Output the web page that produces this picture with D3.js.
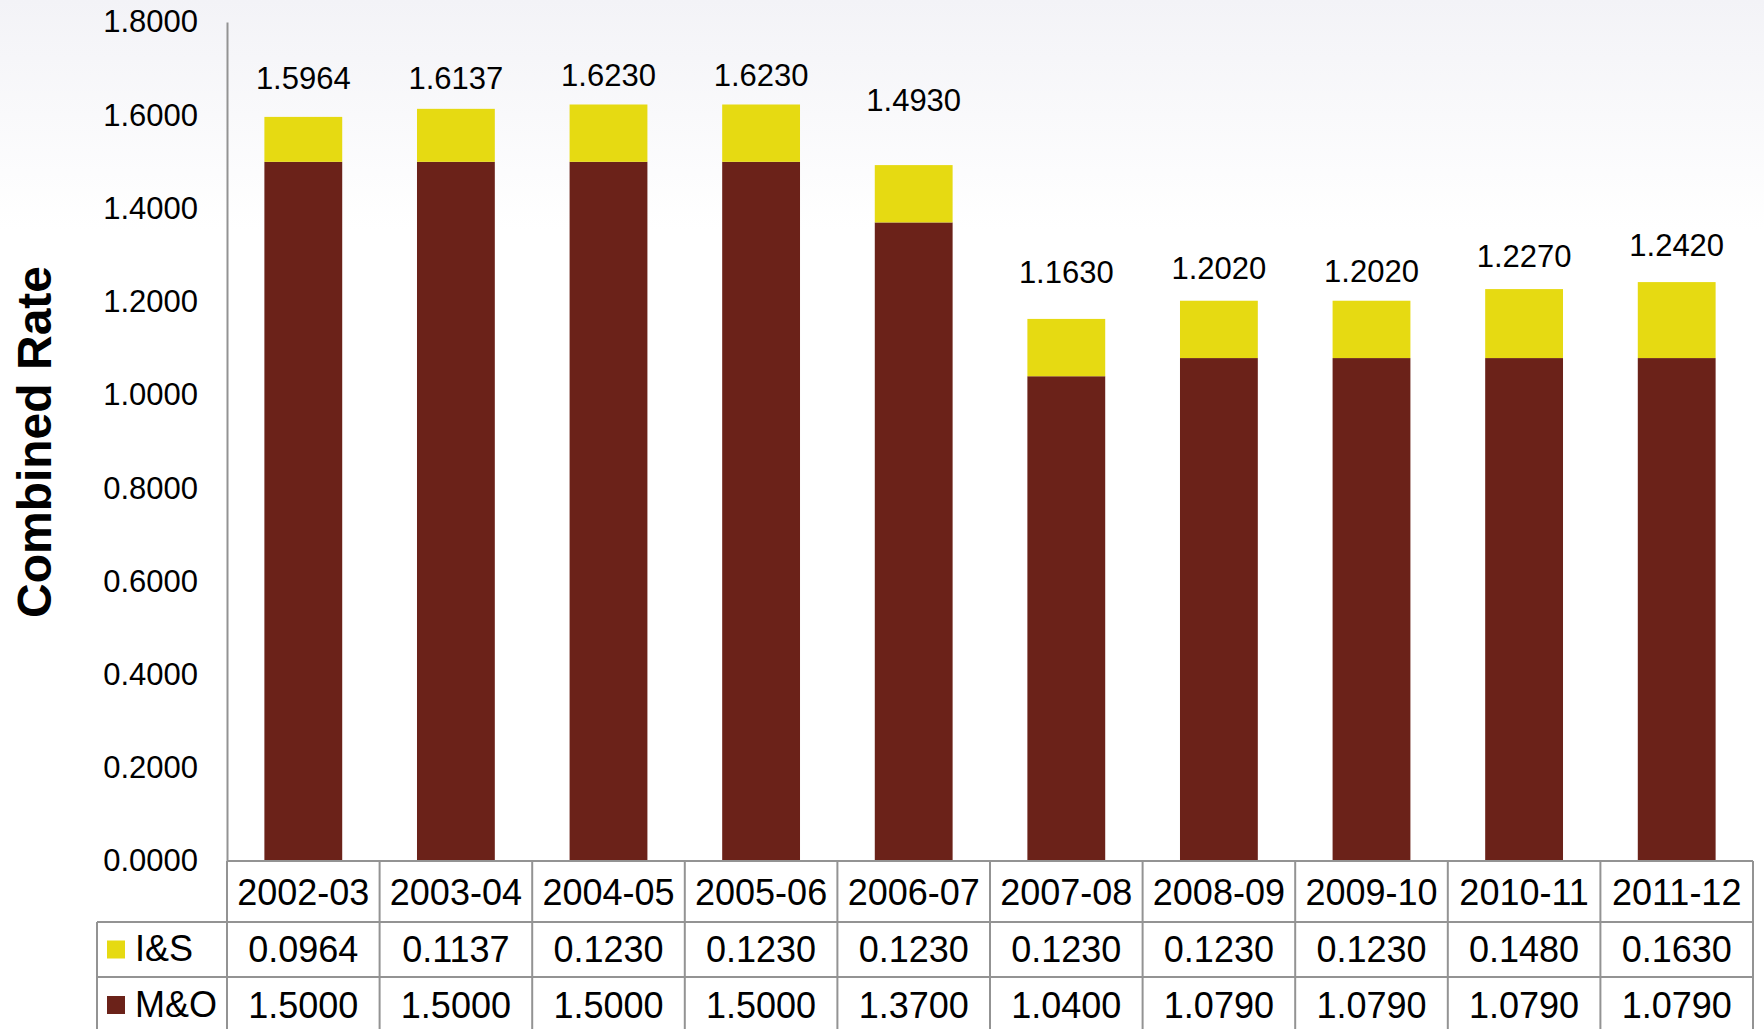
<!DOCTYPE html>
<html>
<head>
<meta charset="utf-8">
<script src="https://cdn.jsdelivr.net/npm/d3@7"></script>
<style>
  html, body { margin: 0; padding: 0; background: #fff; }
  svg { display: block; }
  text { font-family: "Liberation Sans", Arial, sans-serif; fill: #000; }
</style>
</head>
<body>
<script>
// Combined tax rate by school year: M&O plus I&S
const years = ["2002-03", "2003-04", "2004-05", "2005-06", "2006-07",
               "2007-08", "2008-09", "2009-10", "2010-11", "2011-12"];
const isRate = [0.0964, 0.1137, 0.1230, 0.1230, 0.1230, 0.1230, 0.1230, 0.1230, 0.1480, 0.1630];
const moRate = [1.5000, 1.5000, 1.5000, 1.5000, 1.3700, 1.0400, 1.0790, 1.0790, 1.0790, 1.0790];
const totals = [1.5964, 1.6137, 1.6230, 1.6230, 1.4930, 1.1630, 1.2020, 1.2020, 1.2270, 1.2420];
const yTicks = [0, 0.2, 0.4, 0.6, 0.8, 1.0, 1.2, 1.4, 1.6, 1.8];
const seriesNames = ["I&S", "M&O"];

// layout
const W = 1764, H = 1029;
const plotLeft = 227, plotRight = 1753, plotTop = 22, plotBottom = 861;
const rowH = [61, 55, 56];
const labelColLeft = 97;
// vertical distance of each total label above its bar
const labelLift = [38, 30, 29, 29, 65, 46, 32, 29, 33, 37];
const colors = { "I&S": "#e6da12", "M&O": "#6b2219" };
const gridColor = "#939393";

const svg = d3.select("body").append("svg").attr("width", W).attr("height", H);

// soft background wash at the top of the page
const defs = svg.append("defs");
const grad = defs.append("linearGradient").attr("id", "bgWash")
  .attr("x1", 0).attr("y1", 0).attr("x2", 0).attr("y2", 1);
grad.append("stop").attr("offset", "0%").attr("stop-color", "#f3f3f7");
grad.append("stop").attr("offset", "100%").attr("stop-color", "#ffffff");
svg.append("rect").attr("width", W).attr("height", H).attr("fill", "#fff");
svg.append("rect").attr("width", W).attr("height", 230).attr("fill", "url(#bgWash)");

const x = d3.scaleBand().domain(years).range([plotLeft, plotRight]).padding(0);
const y = d3.scaleLinear().domain([0, 1.8]).range([plotBottom, plotTop]);
const barW = x.bandwidth() * 0.51;

const rows = years.map((yr, i) => ({ year: yr, "M&O": moRate[i], "I&S": isRate[i], total: totals[i], i }));
const stack = d3.stack().keys(["M&O", "I&S"])(rows);

// stacked bars
svg.append("g").selectAll("g").data(stack).join("g")
  .attr("fill", d => colors[d.key])
  .selectAll("rect").data(d => d).join("rect")
  .attr("x", d => x(d.data.year) + (x.bandwidth() - barW) / 2)
  .attr("width", barW)
  .attr("y", d => y(d[1]))
  .attr("height", d => y(d[0]) - y(d[1]));

// total labels
svg.append("g").selectAll("text").data(rows).join("text")
  .attr("x", d => x(d.year) + x.bandwidth() / 2)
  .attr("y", d => y(d.total) - labelLift[d.i])
  .attr("text-anchor", "middle")
  .attr("dominant-baseline", "central")
  .style("font-size", "31px")
  .text(d => d.total.toFixed(4));

// value axis
const yAxis = svg.append("g").attr("transform", `translate(${plotLeft},0)`)
  .call(d3.axisLeft(y).tickValues(yTicks).tickFormat(d3.format(".4f"))
        .tickSizeInner(0).tickSizeOuter(0).tickPadding(29));
yAxis.select(".domain").attr("stroke", gridColor).attr("stroke-width", 2);
yAxis.selectAll("text").style("font-size", "31px").attr("fill", "#000")
  .style("font-family", '"Liberation Sans", Arial, sans-serif');

// axis title
svg.append("text")
  .attr("transform", `translate(51,442) rotate(-90)`)
  .attr("text-anchor", "middle")
  .style("font-size", "48px").style("font-weight", "bold")
  .text("Combined Rate");

// data table under the chart
const table = svg.append("g");
const y0 = plotBottom, y1 = y0 + rowH[0], y2 = y1 + rowH[1], y3 = y2 + rowH[2];
const line = (xa, ya, xb, yb) => table.append("line")
  .attr("x1", xa).attr("y1", ya).attr("x2", xb).attr("y2", yb)
  .attr("stroke", gridColor).attr("stroke-width", 2);

line(plotLeft, y0, plotRight, y0);
line(labelColLeft, y1, plotRight, y1);
line(labelColLeft, y2, plotRight, y2);
line(labelColLeft, y1, labelColLeft, y3);
years.forEach(yr => line(x(yr), y0, x(yr), y3));
line(plotRight, y0, plotRight, y3);

table.selectAll("text.cat").data(years).join("text").attr("class", "cat")
  .attr("x", d => x(d) + x.bandwidth() / 2).attr("y", (y0 + y1) / 2 + 1)
  .attr("text-anchor", "middle").attr("dominant-baseline", "central")
  .style("font-size", "36px").text(d => d);

const seriesRows = [{ name: "I&S", vals: isRate, top: y1, bot: y2 },
                    { name: "M&O", vals: moRate, top: y2, bot: y3 }];
seriesRows.forEach(s => {
  const cy = (s.top + s.bot) / 2;
  table.append("rect").attr("x", 107).attr("y", cy - 9).attr("width", 18).attr("height", 18)
    .attr("fill", colors[s.name]);
  table.append("text").attr("x", 135).attr("y", cy - 1)
    .attr("dominant-baseline", "central").style("font-size", "36px").text(s.name);
  table.selectAll(null).data(s.vals).join("text")
    .attr("x", (d, i) => x(years[i]) + x.bandwidth() / 2).attr("y", cy)
    .attr("text-anchor", "middle").attr("dominant-baseline", "central")
    .style("font-size", "36px").text(d => d.toFixed(4));
});
</script>
</body>
</html>
